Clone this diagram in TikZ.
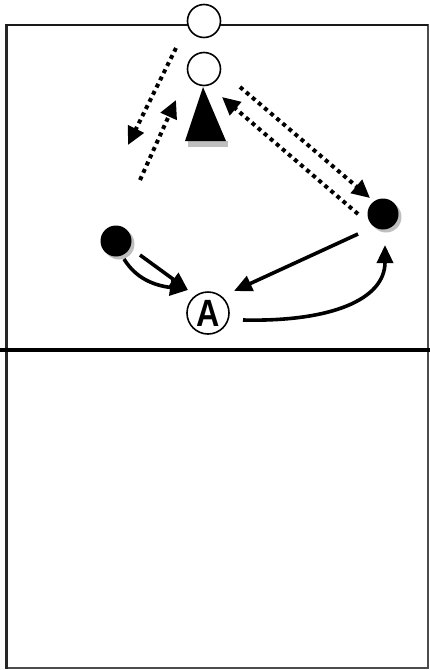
\documentclass[tikz,border=0pt]{standalone}
\usepackage{fontspec}
\setmainfont{Liberation Sans}
\usetikzlibrary{arrows.meta}
\begin{document}
\begin{tikzpicture}[x=1pt,y=-1pt,
 court/.style={draw=black!70,line width=1.8pt},
 net/.style={line width=4.5pt},
 hollow/.style={circle,draw,line width=1.6pt,fill=white,minimum size=33pt,inner sep=0pt},
 player/.style={circle,fill=black,minimum size=31pt,inner sep=0pt},
 pshadow/.style={circle,fill=black!25,minimum size=31pt,inner sep=0pt},
 attacker/.style={circle,draw,line width=1.6pt,fill=white,minimum width=39pt,minimum height=42pt,inner sep=0pt,font=\fontsize{38}{38}\selectfont\bfseries},
 dotarrow/.style={line width=4pt,dash pattern=on 4pt off 4pt,-{Triangle[length=18pt,width=17pt]}},
 solidarrow/.style={line width=3.6pt,-{Triangle[length=18pt,width=16pt]}},
]
\useasboundingbox (0,0) rectangle (430,670);
% court
\draw[court] (6,25) rectangle (428,668);
\draw[line width=3pt,black!85] (6,24) -- (6,669);
\draw[line width=2.5pt,black!90] (6,25) -- (428,25);
\draw[net] (0,350) -- (430,350);
% hollow circles
\node[hollow] (top) at (204,21) {};
\node[hollow] (setter) at (204,69) {};
% cone / triangle
\coordinate (apex) at (203,87);
\coordinate (bl) at (185,141);
\coordinate (br) at (226,141);
\fill[black!25] (188,141) rectangle (228,147);
\fill (apex) -- (bl) -- (br) -- cycle;
% players
\node[pshadow] at (386,217) {};
\node[player] (rp) at (383,214) {};
\node[pshadow] at (119,244) {};
\node[player] (lp) at (116,241) {};
% attacker
\node[attacker] (atk) at (208,313) {\scalebox{0.85}[1]{A}};
% dotted arrow end points
\coordinate (d1s) at (176,48);
\coordinate (d1e) at (128,145);
\coordinate (d2s) at (140,180);
\coordinate (d2e) at (176,100);
\coordinate (d3s) at (240,87);
\coordinate (d3e) at (370,198);
\coordinate (d4s) at (358,214);
\coordinate (d4e) at (222,97);
\draw[dotarrow] (d1s) -- (d1e);
\draw[dotarrow] (d2s) -- (d2e);
\draw[dotarrow] (d3s) -- (d3e);
\draw[dotarrow] (d4s) -- (d4e);
% solid arrows
\coordinate (s1s) at (140,255);
\coordinate (s1e) at (188,290);
\coordinate (s2s) at (124,259);
\coordinate (s3s) at (358,234);
\coordinate (s3e) at (234,291);
\coordinate (s4s) at (243,320);
\coordinate (s4e) at (385,245);
\draw[solidarrow] (s1s) -- (s1e);
\draw[solidarrow] (s2s) .. controls (138,282) and (160,286) .. (s1e);
\draw[solidarrow] (s3s) -- (s3e);
\draw[solidarrow] (s4s) .. controls (330,322) and (385,300) .. (s4e);
\end{tikzpicture}
\end{document}
